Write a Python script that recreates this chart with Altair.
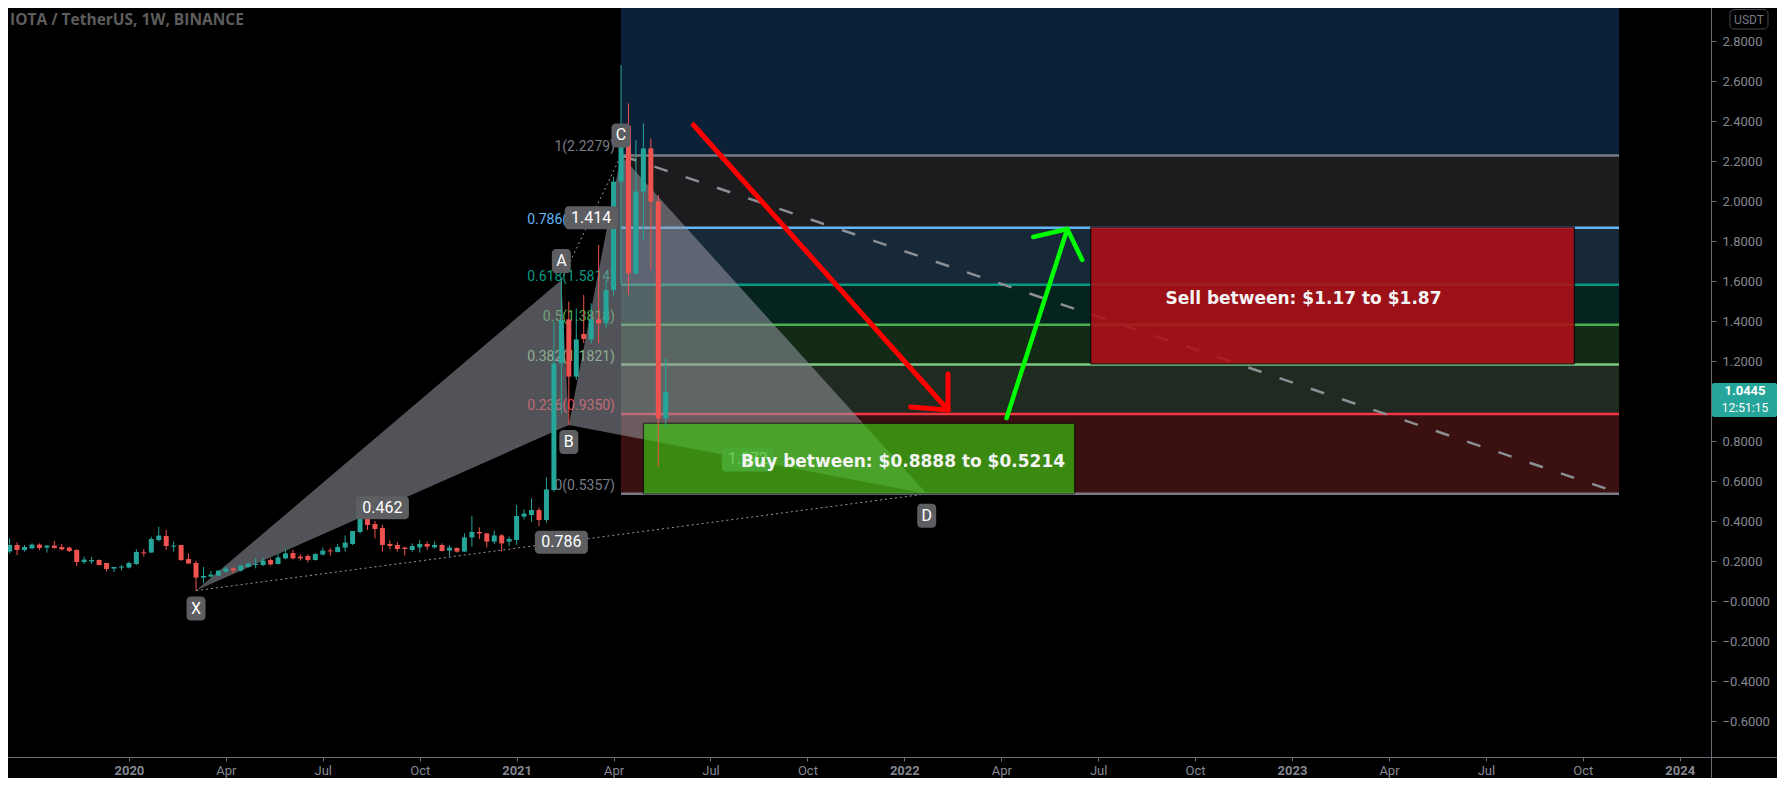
import altair as alt
import numpy as np
import pandas as pd

# ---------------- data ----------------
first_week = "2019-09-16"
opens = [0.247, 0.280, 0.255, 0.263, 0.282, 0.267, 0.277, 0.270, 0.267, 0.255,
         0.195, 0.198, 0.205, 0.190, 0.162, 0.167, 0.167, 0.185, 0.243, 0.242,
         0.305, 0.325, 0.272, 0.280, 0.210, 0.190, 0.117, 0.122, 0.127, 0.147,
         0.163, 0.152, 0.170, 0.180, 0.180, 0.205, 0.185, 0.213, 0.240, 0.222,
         0.225, 0.205, 0.232, 0.253, 0.245, 0.267, 0.285, 0.345, 0.425, 0.385,
         0.365, 0.285, 0.280, 0.267, 0.255, 0.268, 0.285, 0.268, 0.280, 0.252,
         0.265, 0.247, 0.318, 0.345, 0.338, 0.297, 0.328, 0.297, 0.305, 0.422,
         0.430, 0.455, 0.405, 0.555, 1.188, 1.408, 1.122, 1.335, 1.308, 1.408,
         1.388, 1.555, 2.097, 2.375, 1.638, 2.047, 2.263, 1.997, 0.913]
highs = [0.313, 0.293, 0.280, 0.288, 0.288, 0.280, 0.300, 0.285, 0.272, 0.260,
         0.222, 0.220, 0.208, 0.190, 0.170, 0.180, 0.197, 0.258, 0.260, 0.322,
         0.372, 0.355, 0.297, 0.280, 0.238, 0.202, 0.170, 0.150, 0.153, 0.175,
         0.168, 0.180, 0.192, 0.213, 0.218, 0.213, 0.238, 0.258, 0.255, 0.233,
         0.233, 0.238, 0.268, 0.265, 0.285, 0.327, 0.350, 0.450, 0.438, 0.400,
         0.380, 0.303, 0.295, 0.272, 0.288, 0.305, 0.298, 0.297, 0.288, 0.280,
         0.268, 0.338, 0.425, 0.368, 0.340, 0.352, 0.335, 0.322, 0.480, 0.458,
         0.513, 0.467, 0.618, 1.400, 1.605, 1.497, 1.463, 1.530, 1.488, 1.780,
         1.605, 2.120, 2.680, 2.488, 2.305, 2.388, 2.313, 2.030, 1.215]
lows = [0.238, 0.230, 0.247, 0.260, 0.255, 0.242, 0.262, 0.252, 0.245, 0.175,
        0.185, 0.185, 0.178, 0.147, 0.145, 0.152, 0.163, 0.180, 0.222, 0.242,
        0.297, 0.255, 0.247, 0.200, 0.187, 0.052, 0.088, 0.118, 0.125, 0.142,
        0.138, 0.147, 0.167, 0.163, 0.175, 0.177, 0.183, 0.208, 0.208, 0.202,
        0.193, 0.202, 0.228, 0.227, 0.242, 0.247, 0.280, 0.337, 0.355, 0.313,
        0.247, 0.258, 0.247, 0.227, 0.247, 0.242, 0.255, 0.262, 0.247, 0.222,
        0.242, 0.245, 0.272, 0.310, 0.268, 0.285, 0.247, 0.275, 0.280, 0.408,
        0.397, 0.375, 0.392, 0.547, 0.938, 0.880, 1.105, 1.290, 1.288, 1.288,
        1.363, 1.522, 1.590, 1.530, 1.630, 1.805, 1.655, 0.672, 0.872]
closes = [0.280, 0.255, 0.270, 0.282, 0.265, 0.277, 0.265, 0.258, 0.250, 0.195,
          0.207, 0.205, 0.180, 0.160, 0.170, 0.172, 0.190, 0.245, 0.238, 0.310,
          0.327, 0.275, 0.277, 0.205, 0.187, 0.117, 0.125, 0.132, 0.152, 0.162,
          0.153, 0.177, 0.187, 0.185, 0.202, 0.183, 0.218, 0.238, 0.213, 0.213,
          0.205, 0.235, 0.252, 0.248, 0.270, 0.292, 0.350, 0.427, 0.380, 0.360,
          0.280, 0.275, 0.260, 0.260, 0.275, 0.285, 0.272, 0.280, 0.250, 0.267,
          0.247, 0.318, 0.345, 0.338, 0.297, 0.328, 0.288, 0.310, 0.425, 0.437,
          0.455, 0.405, 0.558, 1.188, 1.405, 1.122, 1.308, 1.310, 1.408, 1.388,
          1.555, 2.097, 2.375, 1.638, 2.047, 2.263, 1.997, 0.913, 1.045]

fib_prices = [2.2279, 1.8657, 1.5814, 1.3818, 1.1821, 0.9350, 0.5357]
fib_labels = ["1(2.2279)", "0.786(1.8657)", "0.618(1.5814)", "0.5(1.3818)",
              "0.382(1.1821)", "0.236(0.9350)", "0(0.5357)"]
fib_ext_price = 3.2737
fib_start, fib_end = "2021-04-12", "2023-11-05"

pattern_names = ["X", "A", "B", "C", "D"]
pattern_dates = ["2020-03-09", "2021-02-15", "2021-02-22", "2021-04-12", "2022-01-24"]
pattern_prices = [0.052, 1.605, 0.880, 2.2279, 0.5357]
ratio_texts = ["0.462", "0.786", "1.414", "1.272"]
ratio_pairs = [("X", "B"), ("X", "D"), ("A", "C"), ("B", "D")]

trend_dates = ["2021-04-14", "2023-11-05"]
trend_prices = [2.225, 0.540]

sell_dates, sell_prices = ["2022-06-27", "2023-09-24"], [1.185, 1.870]
sell_text = "Sell between: $1.17 to $1.87"
buy_dates, buy_prices = ["2021-05-03", "2022-06-12"], [0.5357, 0.8888]
buy_text = "Buy between: $0.8888 to $0.5214"

red_arrow_dates = ["2021-06-19", "2022-02-13", "2022-01-09", "2022-02-13"]
red_arrow_prices = [2.38, 0.955, 0.97, 1.135]
green_arrow_dates = ["2022-04-09", "2022-06-05", "2022-05-04", "2022-06-19"]
green_arrow_prices = [0.915, 1.86, 1.82, 1.705]

last_price = 1.0445
countdown = "12:51:15"
title_text = "IOTA / TetherUS, 1W, BINANCE"

y_tick_values = [-0.6, -0.4, -0.2, 0.0, 0.2, 0.4, 0.6, 0.8, 1.0, 1.2, 1.4,
                 1.6, 1.8, 2.0, 2.2, 2.4, 2.6, 2.8]
x_tick_dates = ["2020-01-06", "2020-04-06", "2020-07-06", "2020-10-05",
                "2021-01-04", "2021-04-05", "2021-07-05", "2021-10-04",
                "2022-01-03", "2022-04-04", "2022-07-04", "2022-10-03",
                "2023-01-02", "2023-04-03", "2023-07-03", "2023-10-02",
                "2024-01-01"]

# ---------------- layout / styles ----------------
OFF = 8
PLOT_W = 1711 - OFF
PLOT_H = 757 - OFF
PPD = 1560 / 1456          # pixels per day
ANCHOR = pd.Timestamp("2020-01-06")
ANCHOR_X = 124.6
BG = "#000000"
AX_COL = "#6a6d75"
LBL_COL = "#858891"
UP, DOWN = "#26a69a", "#ef5350"
fib_line_colors = ["#787b86", "#64b5f6", "#089981", "#4caf50", "#81c784", "#f23645", "#787b86"]
fib_zone_colors = ["#0a2137", "#1c1c1e", "#172938", "#06241f", "#132a16", "#1f2b20", "#3a1010"]


def ms(s):
    return int(pd.Timestamp(s).value // 10**6)


x0 = ANCHOR - pd.Timedelta(days=(ANCHOR_X - OFF) / PPD)
x1 = ANCHOR + pd.Timedelta(days=(1711 - ANCHOR_X) / PPD)
y_top = (601 - OFF) / 200
y_bot = (601 - 757) / 200

xs = alt.Scale(type="utc", domain=[ms(x0), ms(x1)])
ys = alt.Scale(domain=[y_bot, y_top], nice=False, zero=False)

x_axis = alt.Axis(
    orient="bottom", title=None, grid=False, domain=False,
    values=[alt.DateTime(year=int(d[:4]), month=int(d[5:7]), date=int(d[8:]), utc=True)
            for d in x_tick_dates],
    labelExpr="utcmonth(datum.value) == 0 ? utcFormat(datum.value, '%Y') : utcFormat(datum.value, '%b')",
    labelFontWeight=alt.condition("utcmonth(datum.value) == 0", alt.value("bold"), alt.value("normal")),
    labelColor=LBL_COL, labelFont="Roboto", labelFontSize=13, labelPadding=3,
    tickSize=4, tickColor=AX_COL, labelOverlap=False, labelFlush=False,
)
y_axis = alt.Axis(
    orient="right", title=None, grid=False, domain=False, values=y_tick_values,
    labelExpr="datum.value <= 0.00001 ? '\u2212' + format(abs(datum.value), '.4f') : format(datum.value, '.4f')",
    labelColor=LBL_COL, labelFont="Roboto", labelFontSize=13, labelPadding=6,
    tickSize=5, tickColor=AX_COL, labelOverlap=False, labelFlush=False,
)


def X(f):
    return alt.X(f, type="temporal", scale=xs, axis=x_axis, title=None)


def Y(f):
    return alt.Y(f, type="quantitative", scale=ys, axis=y_axis, title=None)


# ---------------- tables ----------------
cd = pd.DataFrame({
    "t": [ms(d) for d in pd.date_range(first_week, periods=len(opens), freq="7D")],
    "o": opens, "h": highs, "l": lows, "c": closes,
})
cd["dir"] = np.where(cd["c"] >= cd["o"], "up", "down")
dir_color = alt.Color("dir:N", scale=alt.Scale(domain=["up", "down"], range=[UP, DOWN]), legend=None)

zone_hi = [fib_ext_price] + fib_prices[:-1]
zones = pd.DataFrame({"s": ms(fib_start), "e": ms(fib_end), "lo": fib_prices,
                      "hi": zone_hi, "col": fib_zone_colors})
fibl = pd.DataFrame({"s": ms(fib_start), "e": ms(fib_end), "p": fib_prices,
                     "lab": fib_labels, "col": fib_line_colors})

P = {n: (ms(d), v) for n, d, v in zip(pattern_names, pattern_dates, pattern_prices)}


def interp(a, b, t):
    (ta, va), (tb, vb) = P[a], P[b]
    return va + (vb - va) * (t - ta) / (tb - ta)


tri = pd.DataFrame([
    {"g": "XAB", "t": P["X"][0], "top": P["X"][1], "bot": P["X"][1]},
    {"g": "XAB", "t": P["A"][0], "top": P["A"][1], "bot": interp("X", "B", P["A"][0])},
    {"g": "XAB", "t": P["B"][0], "top": P["B"][1], "bot": P["B"][1]},
    {"g": "BCD", "t": P["B"][0], "top": P["B"][1], "bot": P["B"][1]},
    {"g": "BCD", "t": P["C"][0], "top": P["C"][1], "bot": interp("B", "D", P["C"][0])},
    {"g": "BCD", "t": P["D"][0], "top": P["D"][1], "bot": P["D"][1]},
])
dots = pd.DataFrame([{"t1": P[a][0], "v1": P[a][1], "t2": P[b][0], "v2": P[b][1]}
                     for a, b in [("A", "C"), ("X", "D")]])
ratios = pd.DataFrame([{"t": (P[a][0] + P[b][0]) / 2, "v": (P[a][1] + P[b][1]) / 2, "txt": txt}
                       for txt, (a, b) in zip(ratio_texts, ratio_pairs)])
pts = pd.DataFrame({"t": [P[n][0] for n in pattern_names], "v": pattern_prices, "n": pattern_names})
below = {"X": 18, "A": -19, "B": 17, "C": -20, "D": 22}

trend = pd.DataFrame({"t1": [ms(trend_dates[0])], "v1": [trend_prices[0]],
                      "t2": [ms(trend_dates[1])], "v2": [trend_prices[1]]})
sell = pd.DataFrame({"s": [ms(sell_dates[0])], "e": [ms(sell_dates[1])],
                     "lo": [sell_prices[0]], "hi": [sell_prices[1]],
                     "tc": [(ms(sell_dates[0]) + ms(sell_dates[1])) / 2],
                     "vc": [sum(sell_prices) / 2], "txt": [sell_text]})
buy = pd.DataFrame({"s": [ms(buy_dates[0])], "e": [ms(buy_dates[1])],
                    "lo": [buy_prices[0]], "hi": [buy_prices[1]],
                    "tc": [(ms(buy_dates[0]) + ms(buy_dates[1])) / 2],
                    "vc": [sum(buy_prices) / 2], "txt": [buy_text]})


def arrow_rows(dates, prices, col, w):
    tip = (ms(dates[1]), prices[1])
    rows = []
    for i in (0, 2, 3):
        rows.append({"t1": ms(dates[i]), "v1": prices[i], "t2": tip[0], "v2": tip[1], "c": col, "w": w})
    return rows


arrows = pd.DataFrame(arrow_rows(red_arrow_dates, red_arrow_prices, "#ff0000", 5)
                      + arrow_rows(green_arrow_dates, green_arrow_prices, "#00ff00", 4.5))
price = pd.DataFrame({"p": [last_price], "txt": [f"{last_price:.4f}"], "cd": [countdown]})
dummy = pd.DataFrame({"a": [0]})

# ---------------- layers ----------------
l_zones = alt.Chart(zones).mark_rect(clip=True).encode(
    x=X("s"), x2="e", y=Y("lo"), y2="hi", color=alt.Color("col:N", scale=None))
l_fibl = alt.Chart(fibl).mark_rule(strokeWidth=2.5).encode(
    x=X("s"), x2="e", y=Y("p"), color=alt.Color("col:N", scale=None))
l_fibt = alt.Chart(fibl).mark_text(align="right", baseline="bottom", dx=-6, dy=-1,
                                   font="Roboto", fontSize=14).encode(
    x=X("s"), y=Y("p"), text="lab:N", color=alt.Color("col:N", scale=None))
l_tri = alt.Chart(tri).mark_area(color="#9598a1", opacity=0.55).encode(
    x=X("t"), y=Y("top"), y2="bot", detail="g:N")
l_dots = alt.Chart(dots).mark_rule(color="#9598a1", strokeWidth=1, strokeDash=[2, 3]).encode(
    x=X("t1"), x2="t2", y=Y("v1"), y2="v2")
r_under = ratios[ratios["txt"] == ratio_texts[3]]
r_over = ratios[ratios["txt"] != ratio_texts[3]]
l_rbox_u = alt.Chart(r_under).mark_rect(width=52, height=24, cornerRadius=4, color="#6a6d73").encode(
    x=X("t"), y=Y("v"))
l_rtxt_u = alt.Chart(r_under).mark_text(font="Roboto", fontSize=16, color="#d8d8d8").encode(
    x=X("t"), y=Y("v"), text="txt:N")
l_trend = alt.Chart(trend).mark_rule(color="#8c8f96", strokeWidth=2.5, strokeDash=[14, 19]).encode(
    x=X("t1"), x2="t2", y=Y("v1"), y2="v2")
l_sell = alt.Chart(sell).mark_rect(color="#b00f17", opacity=0.88, stroke="#000000", strokeWidth=1).encode(
    x=X("s"), x2="e", y=Y("lo"), y2="hi")
l_buy = alt.Chart(buy).mark_rect(color="#3ac613", opacity=0.67, stroke="#000000", strokeWidth=1).encode(
    x=X("s"), x2="e", y=Y("lo"), y2="hi")
l_wick = alt.Chart(cd).mark_rule(strokeWidth=1, clip=True).encode(
    x=X("t"), y=Y("l"), y2="h", color=dir_color)
l_body = alt.Chart(cd).mark_bar(width=5, clip=True).encode(
    x=X("t"), y=Y("o"), y2="c", color=dir_color)
l_arrows = alt.Chart(arrows).mark_rule(strokeCap="round").encode(
    x=X("t1"), x2="t2", y=Y("v1"), y2="v2", color=alt.Color("c:N", scale=None),
    strokeWidth=alt.StrokeWidth("w:Q", scale=None))
l_rbox = alt.Chart(r_over).mark_rect(width=53, height=23, cornerRadius=4, color="#5d5e62").encode(
    x=X("t"), y=Y("v"))
l_rtxt = alt.Chart(r_over).mark_text(font="Roboto", fontSize=16, color="#ffffff").encode(
    x=X("t"), y=Y("v"), text="txt:N")
pt_layers = []
for n in pattern_names:
    d = pts[pts["n"] == n]
    pt_layers.append(alt.Chart(d).mark_rect(width=19, height=24, cornerRadius=4, color="#5d5e62",
                                            yOffset=below[n]).encode(x=X("t"), y=Y("v")))
    pt_layers.append(alt.Chart(d).mark_text(font="Roboto", fontSize=16, color="#ffffff",
                                            dy=below[n]).encode(x=X("t"), y=Y("v"), text="n:N"))
l_selltxt = alt.Chart(sell).mark_text(font="DejaVu Sans", fontWeight="bold", fontSize=17,
                                      color="#f4f4f4", dx=-29, dy=3).encode(
    x=X("tc"), y=Y("vc"), text="txt:N")
l_buytxt = alt.Chart(buy).mark_text(font="DejaVu Sans", fontWeight="bold", fontSize=17,
                                    color="#f4f4f4", dx=44, dy=3).encode(
    x=X("tc"), y=Y("vc"), text="txt:N")

# chrome: title, axis lines, badges
l_title = alt.Chart(dummy).mark_text(align="left", baseline="middle", font="Open Sans",
                                     fontWeight="bold", fontSize=15.5, color="#5d5d5d").encode(
    x=alt.value(2), y=alt.value(12), text=alt.value(title_text))
l_hline = alt.Chart(dummy).mark_rule(color=AX_COL, strokeWidth=1).encode(
    x=alt.value(0), x2=alt.value(PLOT_W + 66), y=alt.value(PLOT_H + 0.5))
l_vline = alt.Chart(dummy).mark_rule(color=AX_COL, strokeWidth=1).encode(
    x=alt.value(PLOT_W + 0.5), y=alt.value(0), y2=alt.value(PLOT_H + 21))
l_usdt_box = alt.Chart(dummy).mark_rect(fill=BG, stroke="#434651", strokeWidth=1, cornerRadius=4).encode(
    x=alt.value(PLOT_W + 19), x2=alt.value(PLOT_W + 57), y=alt.value(1.5), y2=alt.value(21))
l_usdt_txt = alt.Chart(dummy).mark_text(font="Roboto", fontSize=12, color="#787b86").encode(
    x=alt.value(PLOT_W + 38), y=alt.value(11.5), text=alt.value("USDT"))
l_pbox = alt.Chart(price).mark_rect(color="#26a69a", height=34, yOffset=8, cornerRadius=2).encode(
    x=alt.value(PLOT_W + 1), x2=alt.value(PLOT_W + 66), y=Y("p"))
l_ptxt = alt.Chart(price).mark_text(font="Roboto", fontWeight="bold", fontSize=13, color="#ffffff",
                                    dy=-1).encode(
    x=alt.value(PLOT_W + 34), y=Y("p"), text="txt:N")
l_ptxt2 = alt.Chart(price).mark_text(font="Roboto", fontSize=12, color="#ffffff", dy=16).encode(
    x=alt.value(PLOT_W + 34), y=Y("p"), text="cd:N")

chart = alt.layer(
    l_zones, l_fibl, l_fibt, l_tri, l_dots, l_rbox_u, l_rtxt_u, l_trend, l_sell, l_buy,
    l_wick, l_body, l_arrows, l_rbox, l_rtxt, *pt_layers, l_selltxt, l_buytxt,
    l_title, l_hline, l_vline, l_usdt_box, l_usdt_txt, l_pbox, l_ptxt, l_ptxt2,
).properties(
    width=PLOT_W, height=PLOT_H,
    padding={"left": 0, "top": 0, "right": 66, "bottom": 21},
    autosize=alt.AutoSizeParams(type="none"),
    background=BG,
).configure_view(stroke=None)

chart.save("out.html", embed_options={"renderer": "svg", "actions": False})
